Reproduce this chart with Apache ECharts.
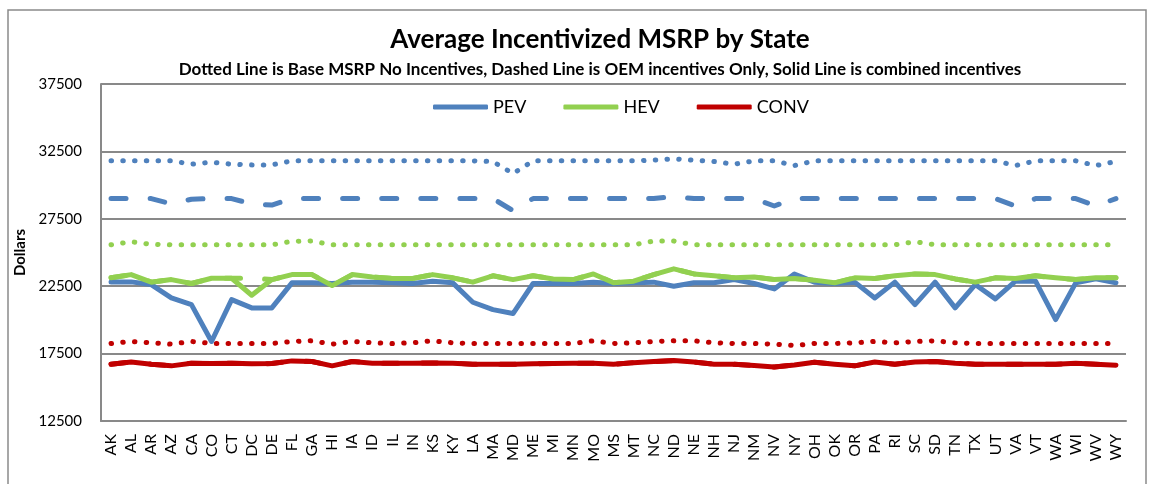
<!DOCTYPE html>
<html>
<head>
<meta charset="utf-8">
<script src="https://cdn.jsdelivr.net/npm/echarts@6/dist/echarts.min.js"></script>
<style>
html,body{margin:0;padding:0;background:#fff;}
#chart{width:1152px;height:484px;}
</style>
</head>
<body>
<div id="chart"></div>
<script>
var states = ['AK','AL','AR','AZ','CA','CO','CT','DC','DE','FL','GA','HI','IA','ID','IL','IN','KS','KY','LA','MA','MD','ME','MI','MN','MO','MS','MT','NC','ND','NE','NH','NJ','NM','NV','NY','OH','OK','OR','PA','RI','SC','SD','TN','TX','UT','VA','VT','WA','WI','WV','WY'];

var yTicks = [12500, 17500, 22500, 27500, 32500, 37500];

// PEV
var pevBase = [31800,31800,31800,31800,31550,31700,31550,31500,31500,31800,31800,31800,31800,31800,31800,31800,31800,31800,31800,31750,30850,31800,31800,31800,31800,31800,31800,31850,31950,31850,31750,31550,31800,31800,31450,31800,31800,31800,31800,31800,31800,31800,31800,31800,31800,31450,31800,31800,31800,31450,31750];
var pevOem = [29000,29000,29000,28600,28950,29000,29000,28600,28520,29000,29000,29000,29000,29000,29000,29000,29000,29000,29000,29000,28100,29000,29000,29000,29000,29000,29000,29000,29150,29000,29000,29000,29000,28450,29000,29000,29000,29000,29000,29000,29000,29000,29000,29000,29000,28450,29000,29000,29000,28450,29000];
var pevAll = [22820,22820,22620,21630,21130,18400,21500,20890,20890,22750,22750,22700,22800,22800,22750,22700,22870,22750,21310,20760,20470,22700,22700,22700,22800,22700,22750,22800,22500,22750,22750,22990,22700,22300,23400,22800,22700,22800,21630,22800,21130,22800,20890,22620,21560,22870,22870,20020,22750,23040,22750];

// HEV
var hevBase = [25570,25800,25600,25570,25570,25570,25570,25570,25570,25830,25850,25570,25570,25570,25570,25570,25570,25570,25570,25570,25570,25570,25570,25570,25570,25570,25570,25850,25850,25570,25570,25570,25570,25570,25570,25570,25570,25570,25570,25570,25800,25570,25570,25570,25570,25570,25570,25570,25570,25570,25570];
var hevOem = [23120,23360,22800,22990,22700,23090,23090,23090,22990,23360,23360,22545,23360,23190,23070,23070,23360,23120,22800,23270,22990,23270,23040,22990,23410,22750,22870,23360,23790,23410,23270,23120,23190,22990,23070,22950,22750,23120,23070,23270,23410,23360,23040,22800,23120,23070,23270,23120,22990,23120,23120];
var hevAll = [23120,23360,22800,22990,22700,23090,23090,21830,22990,23360,23360,22545,23360,23190,23070,23070,23360,23120,22800,23270,22990,23270,23040,22990,23410,22750,22870,23360,23790,23410,23270,23120,23190,22990,23070,22950,22750,23120,23070,23270,23410,23360,23040,22800,23120,23070,23270,23120,22990,23120,23120];

// CONV
var convBase = [18250,18400,18300,18200,18400,18250,18250,18250,18250,18400,18450,18200,18400,18300,18250,18300,18450,18300,18250,18250,18250,18250,18250,18250,18450,18250,18300,18400,18450,18450,18300,18250,18250,18200,18100,18250,18250,18300,18400,18300,18400,18450,18300,18250,18250,18250,18250,18250,18250,18250,18250];
var convOem = [16710,16880,16710,16590,16790,16760,16790,16740,16760,16960,16910,16590,16910,16790,16790,16790,16810,16790,16710,16710,16710,16740,16760,16790,16790,16710,16830,16910,16980,16880,16710,16710,16620,16510,16660,16860,16710,16590,16880,16710,16880,16910,16790,16710,16710,16710,16710,16710,16790,16710,16640];
var convAll = [16710,16880,16710,16590,16790,16760,16790,16740,16760,16960,16910,16590,16910,16790,16790,16790,16810,16790,16710,16710,16710,16740,16760,16790,16790,16710,16830,16910,16980,16880,16710,16710,16620,16510,16660,16860,16710,16590,16880,16710,16880,16910,16790,16710,16710,16710,16710,16710,16790,16710,16640];

var BLUE = '#4F81BD', GREEN = '#92D050', RED = '#C00000';
var W = 5;
var DOT = [0.5, 11.25];
var DASH = [15, 24.1];

function mk(name, data, color, type) {
  return {
    name: name, type: 'line', data: data, symbol: 'none', smooth: false,
    itemStyle: {color: color},
    lineStyle: {color: color, width: W, type: type, cap: 'round', join: 'round'},
    emphasis: {disabled: true}, silent: true
  };
}

var chart = echarts.init(document.getElementById('chart'), null, {renderer: 'canvas'});
chart.setOption({
  animation: false,
  backgroundColor: '#fff',
  textStyle: {fontFamily: 'Lato'},
  graphic: [
    {type: 'rect', shape: {x: 8, y: 10, width: 1138, height: 490}, style: {fill: 'none', stroke: '#8a8a8a', lineWidth: 1.5}, silent: true, z: -10},
    {type: 'text', x: 600, y: 40, style: {text: 'Average Incentivized MSRP by State', font: 'bold 26px Lato', fill: '#000', textAlign: 'center', textVerticalAlign: 'middle'}},
    {type: 'text', x: 600, y: 70, style: {text: 'Dotted Line is Base MSRP No Incentives, Dashed Line is OEM incentives Only, Solid Line is combined incentives', font: 'bold 17px Lato', fill: '#000', textAlign: 'center', textVerticalAlign: 'middle'}}
  ],
  legend: {
    data: ['PEV', 'HEV', 'CONV'],
    left: 428, top: 93,
    icon: 'roundRect', itemWidth: 55, itemHeight: 5, itemGap: 37,
    textStyle: {fontFamily: 'Lato', fontSize: 18, color: '#000'},
    selectedMode: false
  },
  grid: {left: 101, right: 26, top: 84, bottom: 63, containLabel: false},
  xAxis: {
    type: 'category', data: states, boundaryGap: true,
    axisLine: {lineStyle: {color: '#898989', width: 2}},
    axisTick: {show: false},
    axisLabel: {rotate: 90, fontFamily: 'Lato', fontSize: 16, color: '#000', margin: 13, interval: 0}
  },
  yAxis: {
    type: 'value', min: yTicks[0], max: yTicks[yTicks.length - 1], interval: 5000,
    name: 'Dollars', nameLocation: 'middle', nameGap: 57,
    nameTextStyle: {fontFamily: 'Lato', fontWeight: 'bold', fontSize: 15, color: '#000'},
    axisLine: {show: true, lineStyle: {color: '#898989', width: 2}},
    axisTick: {show: false},
    axisLabel: {fontFamily: 'Lato', fontSize: 15, color: '#000', margin: 19, formatter: function (v) { return String(v); }},
    splitLine: {show: true, lineStyle: {color: '#898989', width: 2}}
  },
  series: [
    mk('PEV base', pevBase, BLUE, DOT),
    mk('PEV OEM', pevOem, BLUE, DASH),
    mk('HEV base', hevBase, GREEN, DOT),
    mk('HEV OEM', hevOem, GREEN, DASH),
    mk('CONV base', convBase, RED, DOT),
    mk('CONV OEM', convOem, RED, DASH),
    mk('PEV', pevAll, BLUE, 'solid'),
    mk('HEV', hevAll, GREEN, 'solid'),
    mk('CONV', convAll, RED, 'solid')
  ]
});
</script>
</body>
</html>
